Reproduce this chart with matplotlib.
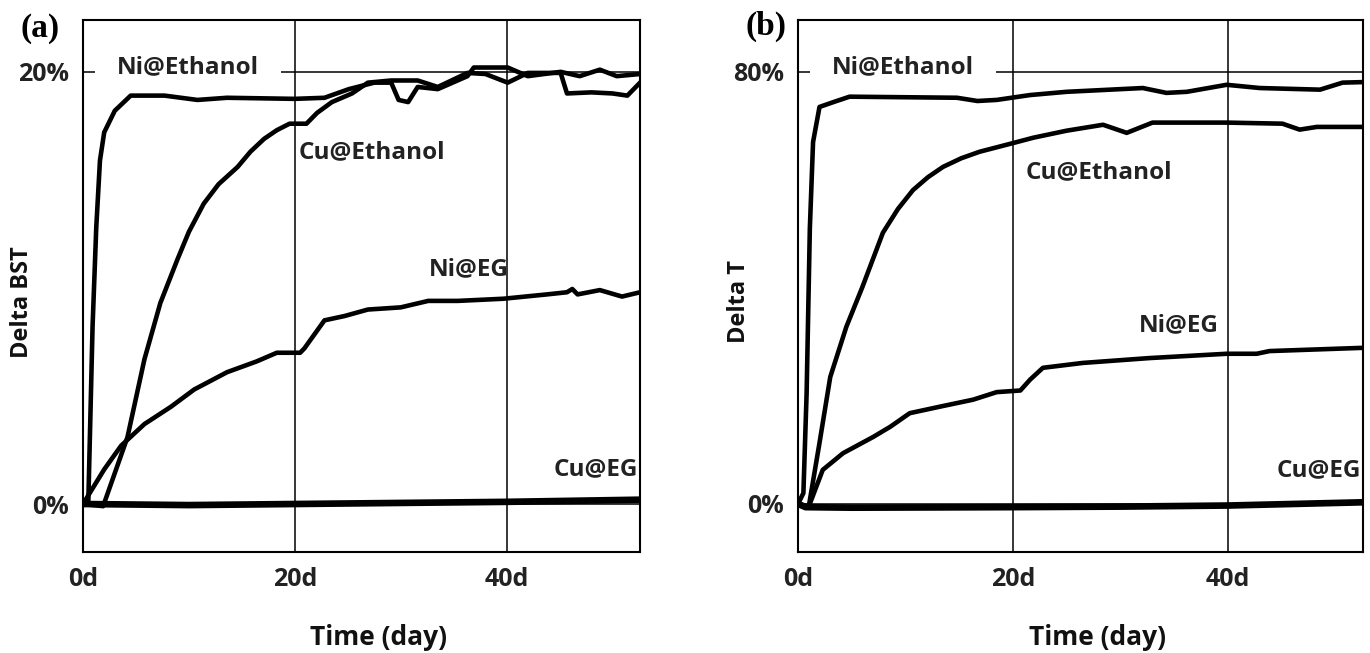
import matplotlib
matplotlib.use("Agg")
import matplotlib.pyplot as plt
from matplotlib.ticker import FuncFormatter

# panel (a): Delta BST (%)
a_ni_eth_day = [0, 0.5, 0.9, 1.25, 1.6, 2.0, 3.0, 4.5, 7.7, 10.8, 13.6, 20.0, 22.8, 25.1, 27.5,
                29.1, 29.8, 30.7, 31.6, 33.5, 36.3, 36.9, 40.1, 42.0, 45.1, 46.9, 48.8, 50.4, 52.6]
a_ni_eth = [0, 0.1, 8.2, 12.8, 15.9, 17.2, 18.2, 18.9, 18.9, 18.7, 18.8, 18.75, 18.8, 19.2, 19.5,
            19.5, 18.7, 18.6, 19.3, 19.2, 19.8, 20.2, 20.2, 19.8, 20.0, 19.8, 20.1, 19.8, 19.9]

a_cu_eth_day = [0, 1.0, 1.9, 4.2, 5.8, 7.3, 8.9, 10.0, 11.4, 12.8, 14.6, 15.8, 17.1, 18.3, 19.5,
                21.1, 22.1, 23.5, 25.4, 26.9, 29.1, 31.6, 33.5, 36.3, 38.0, 40.1, 42.0, 45.1,
                45.7, 48.0, 50.0, 51.4, 52.6]
a_cu_eth = [0, -0.05, -0.1, 3.1, 6.7, 9.3, 11.3, 12.6, 13.9, 14.8, 15.6, 16.3, 16.9, 17.3, 17.6,
            17.6, 18.1, 18.6, 19.0, 19.5, 19.6, 19.6, 19.3, 19.95, 19.9, 19.5, 19.95, 19.95,
            19.0, 19.05, 19.0, 18.9, 19.5]

a_ni_eg_day = [0, 2.0, 3.6, 5.8, 8.3, 10.5, 13.6, 16.4, 18.3, 20.5, 20.9, 22.8, 24.7, 26.9, 30.0,
               32.6, 35.4, 39.7, 43.8, 45.7, 46.2, 46.7, 48.8, 50.9, 52.6]
a_ni_eg = [0, 1.6, 2.7, 3.7, 4.5, 5.3, 6.1, 6.6, 7.0, 7.0, 7.2, 8.5, 8.7, 9.0, 9.1,
           9.4, 9.4, 9.5, 9.7, 9.8, 9.95, 9.7, 9.9, 9.6, 9.8]

a_cu_eg_day = [0, 10, 20, 30, 40, 52.6]
a_cu_eg = [0, -0.05, 0, 0.05, 0.1, 0.2]

# panel (b): Delta T (%)
b_ni_eth_day = [0, 0.5, 0.8, 1.1, 1.4, 2.0, 3.3, 4.8, 14.8, 16.7, 18.5, 21.6, 25.0, 32.1, 34.3,
                36.2, 39.9, 43.0, 48.6, 50.7, 52.6]
b_ni_eth = [0, 2, 20.5, 51, 67, 73.5, 74.4, 75.4, 75.2, 74.6, 74.8, 75.7, 76.3, 77.0, 76.1,
            76.3, 77.6, 77.0, 76.7, 78.0, 78.1]

b_cu_eth_day = [0, 1.0, 2.0, 3.0, 4.5, 6.0, 7.9, 9.3, 10.7, 12.1, 13.5, 15.2, 16.9, 20.0, 21.9,
                25.0, 28.4, 30.6, 33.0, 39.9, 45.1, 46.7, 48.3, 52.6]
b_cu_eth = [0, -0.5, 11.3, 23.5, 32.8, 40.2, 50.2, 54.6, 58.1, 60.5, 62.4, 64.0, 65.2, 66.8, 67.8,
            69.1, 70.2, 68.7, 70.6, 70.6, 70.4, 69.3, 69.8, 69.8]

b_ni_eg_day = [0, 1.0, 2.3, 4.2, 7.0, 8.6, 10.4, 13.2, 16.3, 18.5, 20.7, 21.6, 22.8, 26.5, 32.7,
               39.9, 42.7, 43.9, 52.6]
b_ni_eg = [0, -0.5, 6.3, 9.4, 12.4, 14.3, 16.8, 18.0, 19.3, 20.7, 21.0, 23.0, 25.2, 26.1, 27.0,
           27.8, 27.8, 28.3, 28.9]

b_cu_eg_day = [0, 0.7, 5, 20, 30, 40, 52.6]
b_cu_eg = [0, -0.6, -0.7, -0.6, -0.5, -0.3, 0.3]

x_ticks = [0, 20, 40]
labels = ["Ni@Ethanol", "Cu@Ethanol", "Ni@EG", "Cu@EG"]

plt.rcParams['font.family'] = ['Open Sans', 'DejaVu Sans']

fig = plt.figure(figsize=(13.7, 6.53), dpi=100)
ax1 = fig.add_axes([0.0606, 0.1547, 0.4066, 0.8147])
ax2 = fig.add_axes([0.5825, 0.1547, 0.4124, 0.8147])


def style_axis(ax, ymin, ymax, ystep, ylabel, ylab_x):
    ax.set_xlim(0, 52.6)
    ax.set_ylim(ymin, ymax)
    ax.set_xticks(x_ticks)
    ax.set_yticks([0, ystep])
    ax.xaxis.set_major_formatter(FuncFormatter(lambda v, p: "%dd" % v))
    ax.yaxis.set_major_formatter(FuncFormatter(lambda v, p: "%d%%" % v))
    ax.tick_params(length=0, labelsize=18, colors='#222222')
    ax.tick_params(axis='x', pad=11)
    ax.tick_params(axis='y', pad=10)
    for t in ax.get_xticklabels() + ax.get_yticklabels():
        t.set_fontweight('bold')
    ax.grid(True, color='black', lw=1.1, zorder=1)
    ax.set_axisbelow(True)
    for s in ax.spines.values():
        s.set_linewidth(1.5)
    ax.set_xlabel("Time (day)", fontsize=19, fontweight='bold', color='#111111')
    ax.xaxis.set_label_coords(0.53, -0.135)
    ax.set_ylabel(ylabel, fontsize=17, fontweight='bold', color='#111111')
    ax.yaxis.set_label_coords(ylab_x, 0.47)


style_axis(ax1, -2.22, 22.4, 20, "Delta BST", -0.088)
style_axis(ax2, -8.9, 89.6, 80, "Delta T", -0.083)

lw = 3.3
for d, v in [(a_ni_eth_day, a_ni_eth), (a_cu_eth_day, a_cu_eth), (a_ni_eg_day, a_ni_eg)]:
    ax1.plot(d, v, color='black', lw=lw, zorder=4, solid_joinstyle='round')
ax1.plot(a_cu_eg_day, a_cu_eg, color='black', lw=4.8, zorder=4)

for d, v in [(b_ni_eth_day, b_ni_eth), (b_cu_eth_day, b_cu_eth), (b_ni_eg_day, b_ni_eg)]:
    ax2.plot(d, v, color='black', lw=lw, zorder=4, solid_joinstyle='round')
ax2.plot(b_cu_eg_day, b_cu_eg, color='black', lw=4.8, zorder=4)

box = dict(boxstyle='square,pad=0.9', fc='white', ec='none')
txt = dict(fontsize=17.5, fontweight='bold', color='#222222', va='center', zorder=3)

# label positions (day, value)
ax1.text(9.95, 20.2, labels[0], ha='center', bbox=box, **txt)
ax1.text(27.3, 16.3, labels[1], ha='center', **txt)
ax1.text(36.4, 10.85, labels[2], ha='center', **txt)
ax1.text(52.4, 1.6, labels[3], ha='right', **txt)

ax2.text(9.8, 80.9, labels[0], ha='center', bbox=box, **txt)
ax2.text(28.0, 61.5, labels[1], ha='center', **txt)
ax2.text(35.5, 33.1, labels[2], ha='center', **txt)
ax2.text(52.4, 6.3, labels[3], ha='right', **txt)

fig.text(0.0146, 0.957, "(a)", fontsize=24, fontweight='bold', family='Liberation Serif', va='center')
fig.text(0.544, 0.96, "(b)", fontsize=24, fontweight='bold', family='Liberation Serif', va='center')

fig.savefig("out.png", dpi=100)
